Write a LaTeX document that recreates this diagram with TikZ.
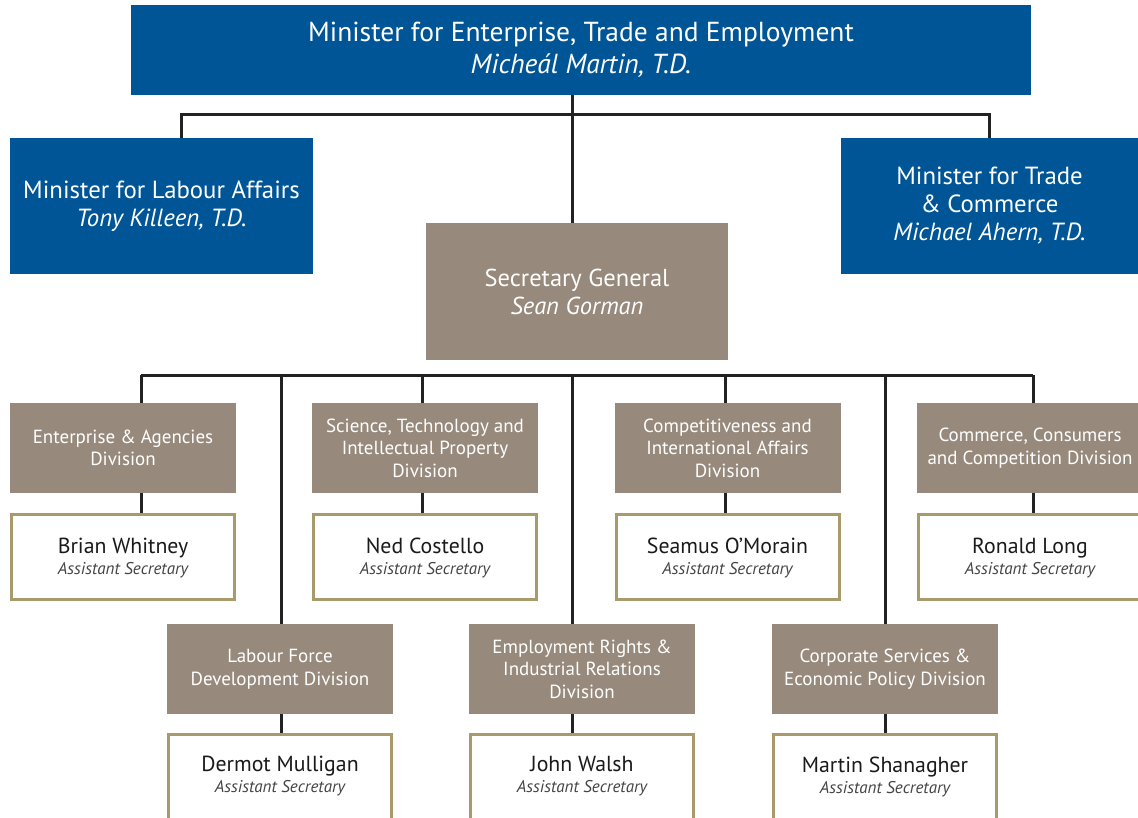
\documentclass[tikz,border=0pt]{standalone}
\usepackage{fontspec}
\setmainfont{PT Sans}
\definecolor{minblue}{HTML}{005596}
\definecolor{taupe}{HTML}{978A7C}
\definecolor{gold}{HTML}{A89A6A}
\definecolor{linec}{HTML}{222222}
\definecolor{namec}{HTML}{1A1A1A}
\definecolor{rolec}{HTML}{444444}
\pgfdeclarelayer{bg}
\pgfsetlayers{bg,main}
\tikzset{
  minbox/.style={fill=minblue, text=white, inner sep=0pt, align=center},
  divbox/.style={fill=taupe, text=white, inner sep=0pt, align=center, minimum width=226pt, minimum height=90pt, font=\fontsize{19}{22.5}\selectfont},
  personbox/.style={draw=gold, line width=3pt, fill=white, inner sep=0pt, align=center, minimum width=223pt, minimum height=85pt},
  perstext/.style={align=center, inner sep=0pt, font=\fontsize{17}{21}\selectfont},
  conn/.style={draw=linec, line width=3pt},
}
\newcommand{\pers}[1]{{\fontsize{21.8}{21}\selectfont\color{namec}#1}\\{\fontsize{17}{21}\selectfont\itshape\color{rolec}Assistant Secretary}}
\begin{document}
\begin{tikzpicture}[x=1pt,y=-1pt]
\useasboundingbox (0,0) rectangle (1138,818);
% ministers
\node[minbox, minimum width=900pt, minimum height=90pt, font=\fontsize{27.5}{32}\selectfont] (min) at (581,50) {Minister for Enterprise, Trade and Employment\\\itshape Miche\'al Martin, T.D.};
\node[minbox, minimum width=303pt, minimum height=136pt, font=\fontsize{24.8}{28}\selectfont] (lab) at (161.5,206) {Minister for Labour Affairs\\\itshape Tony Killeen, T.D.};
\node[minbox, minimum width=297pt, minimum height=136pt, font=\fontsize{24.8}{28}\selectfont] (trade) at (989.5,206) {Minister for Trade\\\& Commerce\\\itshape Michael Ahern, T.D.};
\node[fill=taupe, text=white, inner sep=0pt, align=center, minimum width=302pt, minimum height=137pt, font=\fontsize{24.5}{28}\selectfont] (sg) at (577,291.5) {Secretary General\\\itshape Sean Gorman};
% divisions row 1
\node[divbox] (d1) at (123,448) {Enterprise \& Agencies\\Division};
\node[divbox] (d2) at (425,448) {Science, Technology and\\Intellectual Property\\Division};
\node[divbox] (d3) at (727.5,448) {Competitiveness and\\International Affairs\\Division};
\node[divbox] (d4) at (1030,448) {Commerce, Consumers\\and Competition Division};
\node[personbox] (p1) at (123,557) {};
\node[personbox] (p2) at (425,557) {};
\node[personbox] (p3) at (727.5,557) {};
\node[personbox] (p4) at (1030,557) {};
\node[perstext] (t1) at (123,558) {\pers{Brian Whitney}};
\node[perstext] (t2) at (425,558) {\pers{Ned Costello}};
\node[perstext] (t3) at (727.5,558) {\pers{Seamus O’Morain}};
\node[perstext] (t4) at (1030,558) {\pers{Ronald Long}};
% divisions row 2
\node[divbox] (d5) at (280,669) {Labour Force\\Development Division};
\node[divbox] (d6) at (582,669) {Employment Rights \&\\Industrial Relations\\Division};
\node[divbox] (d7) at (885,669) {Corporate Services \&\\Economic Policy Division};
\node[personbox, minimum height=110pt, anchor=north] (p5) at (280,732.5) {};
\node[personbox, minimum height=110pt, anchor=north] (p6) at (582,732.5) {};
\node[personbox, minimum height=110pt, anchor=north] (p7) at (885,732.5) {};
\node[perstext] (t5) at (280,776.5) {\pers{Dermot Mulligan}};
\node[perstext] (t6) at (582,776.5) {\pers{John Walsh}};
\node[perstext] (t7) at (885,776.5) {\pers{Martin Shanagher}};
% junctions
\coordinate (cL) at (181,115);
\coordinate (cR) at (989,115);
\coordinate (cM) at (572,115);
\coordinate (b1) at (141,375);
\coordinate (b2) at (281,375);
\coordinate (b3) at (422,375);
\coordinate (b4) at (572,375);
\coordinate (b5) at (725,375);
\coordinate (b6) at (885,375);
\coordinate (b7) at (1033,375);
\begin{pgfonlayer}{bg}
\draw[conn] (lab.north -| cL) -- (cL) -- (cR) -- (trade.north -| cR);
\draw[conn] (min.south -| cM) -- (sg.north -| cM);
\draw[conn] (b1) -- (b7);
\draw[conn] (b1) -- (p1.north -| b1);
\draw[conn] (b3) -- (p2.north -| b3);
\draw[conn] (b5) -- (p3.north -| b5);
\draw[conn] (b7) -- (p4.north -| b7);
\draw[conn] (b2) -- (p5.north -| b2);
\draw[conn] (b4) -- (p6.north -| b4);
\draw[conn] (b6) -- (p7.north -| b6);
\end{pgfonlayer}
\end{tikzpicture}
\end{document}
